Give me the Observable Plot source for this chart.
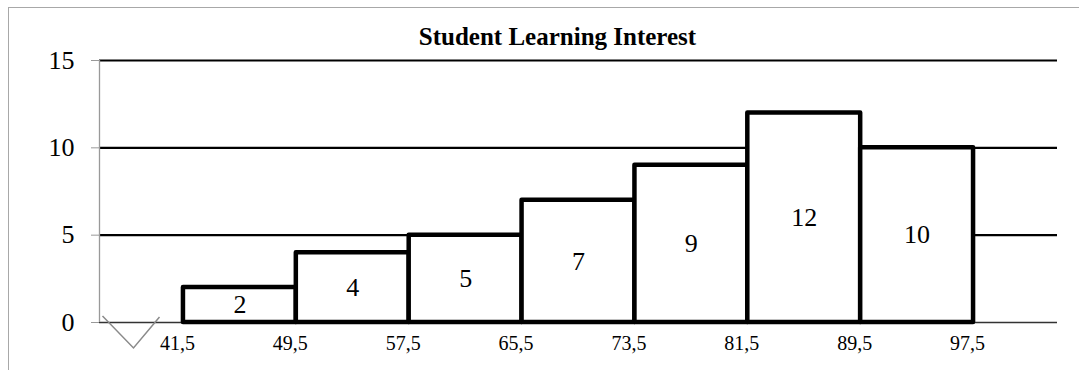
<!DOCTYPE html>
<html>
<head>
<meta charset="utf-8">
<script src="https://cdn.jsdelivr.net/npm/d3@7"></script>
<script src="https://cdn.jsdelivr.net/npm/@observablehq/plot@0.6"></script>
<style>
  html, body { margin: 0; padding: 0; background: #fff; }
  #wrap { position: relative; width: 1079px; height: 370px; overflow: hidden; }
  #frame { position: absolute; left: 8px; top: 7px; width: 1200px; height: 500px;
           border-top: 1.5px solid #a8a8a8; border-left: 1.5px solid #a8a8a8; pointer-events: none; }
  #chart { position: absolute; left: 0; top: 0; }
</style>
</head>
<body>
<div id="wrap"><div id="chart"></div><div id="frame"></div></div>
<script>
// ---- data ----
const title = "Student Learning Interest";
const boundaries = [41.5, 49.5, 57.5, 65.5, 73.5, 81.5, 89.5, 97.5];
const tickLabels = ["41,5", "49,5", "57,5", "65,5", "73,5", "81,5", "89,5", "97,5"];
const counts = [2, 4, 5, 7, 9, 12, 10];
const yTicks = [0, 5, 10, 15];

// table built from the arrays
const bars = counts.map((c, i) => ({ x1: boundaries[i], x2: boundaries[i + 1], count: c }));
const xDomain = [35.55, 103.45];

// axis-break glyph (decorative symbol drawn at the axis origin)
const vBreak = {
  draw(ctx) {
    ctx.moveTo(-28.5, -16);
    ctx.lineTo(2.5, 16);
    ctx.lineTo(28.5, -15);
  }
};

const chart = Plot.plot({
  width: 1079,
  height: 370,
  marginLeft: 99,
  marginRight: 22,
  marginTop: 60,
  marginBottom: 48,
  style: { fontFamily: "'Liberation Serif', 'DejaVu Serif', serif", fontSize: "26px", color: "#000", background: "transparent" },
  x: { domain: xDomain, axis: null },
  y: { domain: [0, 15], axis: null },
  marks: [
    // gridlines
    Plot.ruleY(yTicks.filter(d => d > 0), { stroke: "#000", strokeWidth: 2.2 }),
    // baseline
    Plot.ruleY([0], { stroke: "#333", strokeWidth: 1.5 }),
    // y axis line
    Plot.ruleX([xDomain[0]], { y1: 0, y2: 15, stroke: "#999", strokeWidth: 1.3 }),
    Plot.axisY({ ticks: yTicks, tickSize: 8, tickPadding: 17, stroke: "#999", fill: "#000", fontSize: 26, label: null }),
    // axis break
    Plot.dot([0], { x: xDomain[0], y: 0, symbol: vBreak, stroke: "#8a8a8a", fill: "none", strokeWidth: 1.5, dx: 31.5, dy: 9.5 }),
    // bars
    Plot.rectY(bars, { x1: "x1", x2: "x2", y: "count", fill: "#fff", stroke: "#000", strokeWidth: 4.5, strokeLinejoin: "round" }),
    // bar labels
    Plot.text(bars, { x: d => (d.x1 + d.x2) / 2, y: d => d.count / 2, text: d => String(d.count), fontSize: 26, fill: "#000" }),
    // x tick labels
    Plot.text(boundaries, { x: d => d, y: 0, text: (d, i) => tickLabels[i], fontSize: 20, dx: -6, dy: 21, fill: "#000" }),
    // title
    Plot.text([title], { frameAnchor: "top", dx: -21, dy: -33, text: d => d, fontSize: 25, fontWeight: "bold", fill: "#000" })
  ]
});
document.getElementById("chart").appendChild(chart);
</script>
</body>
</html>
